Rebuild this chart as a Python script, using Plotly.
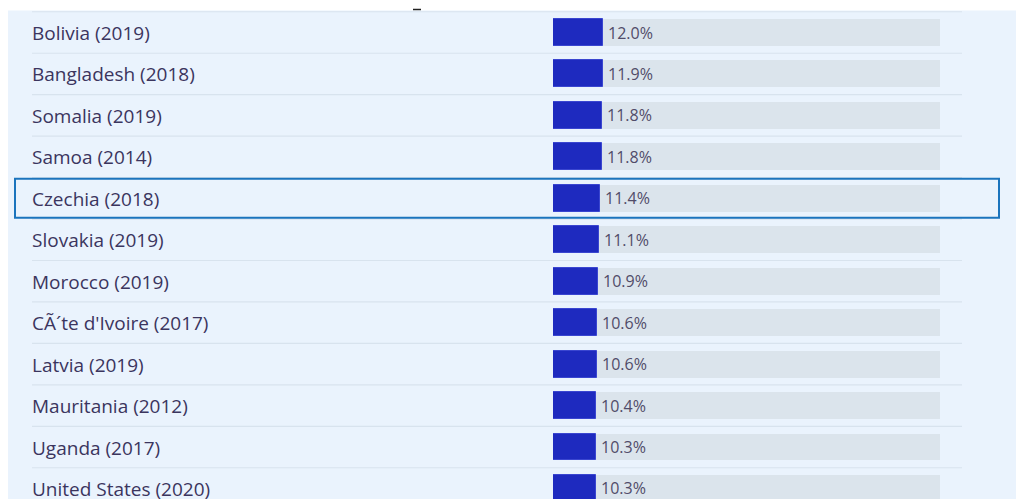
import plotly.graph_objects as go

countries = ["Bolivia (2019)", "Bangladesh (2018)", "Somalia (2019)", "Samoa (2014)",
             "Czechia (2018)", "Slovakia (2019)", "Morocco (2019)", "CÃ´te d'Ivoire (2017)",
             "Latvia (2019)", "Mauritania (2012)", "Uganda (2017)", "United States (2020)"]
values = [12.0, 11.9, 11.8, 11.8, 11.4, 11.1, 10.9, 10.6, 10.6, 10.4, 10.3, 10.3]
value_labels = ["12.0%", "11.9%", "11.8%", "11.8%", "11.4%", "11.1%", "10.9%", "10.6%",
                "10.6%", "10.4%", "10.3%", "10.3%"]
highlight = "Czechia (2018)"
track_max = 92.9

W, H = 1016, 499
n = len(countries)
idx = list(range(n))
row_h = 41.45
y0_px = 32.5

def py(px):
    return 1 - px / H

fig = go.Figure()
fig.add_trace(go.Bar(x=[track_max] * n, y=idx, orientation="h", width=0.65,
                     marker=dict(color="#dbe4ec", line=dict(width=0)),
                     hoverinfo="skip", showlegend=False))
fig.add_trace(go.Bar(x=values, y=idx, orientation="h", width=0.65,
                     marker=dict(color="#1e2abf", line=dict(color="#3a46d0", width=1)),
                     showlegend=False))

shapes = [
    dict(type="rect", xref="paper", yref="paper", x0=8 / W, x1=1, y0=0, y1=py(10.5),
         fillcolor="#eaf3fd", line=dict(width=0), layer="below"),
    dict(type="line", xref="paper", yref="paper", x0=413 / W, x1=421 / W,
         y0=py(9.5), y1=py(9.5), line=dict(color="#222", width=1.5)),
]
for i in idx:
    shapes.append(dict(type="line", xref="paper", yref="y", x0=32 / W, x1=962 / W,
                       y0=i - 0.5, y1=i - 0.5, line=dict(color="#d8e3ee", width=1.2),
                       layer="below"))
hi = countries.index(highlight)
shapes.append(dict(type="rect", xref="paper", yref="y", x0=15 / W, x1=999 / W,
                   y0=hi - 0.47, y1=hi + 0.47, line=dict(color="#1b74bd", width=2),
                   fillcolor="rgba(0,0,0,0)"))

annotations = []
for i, (c, v, t) in enumerate(zip(countries, values, value_labels)):
    annotations.append(dict(x=30 / W, xref="paper", y=i, yref="y", text=c, showarrow=False,
                            xanchor="left", yanchor="middle", yshift=-0.5,
                            font=dict(family="Open Sans", size=19, color="#3b355e")))
    annotations.append(dict(x=v, xref="x", y=i, yref="y", text=t, showarrow=False,
                            xanchor="left", yanchor="middle", xshift=3,
                            font=dict(family="Open Sans", size=16, color="#514c69")))

y_top = (0 - y0_px) / row_h
y_bot = (H - y0_px) / row_h

fig.update_layout(
    width=W, height=H, margin=dict(l=0, r=0, t=0, b=0),
    paper_bgcolor="white", plot_bgcolor="rgba(0,0,0,0)",
    barmode="overlay", bargap=0,
    xaxis=dict(domain=[553 / W, 940 / W], range=[0, track_max], visible=False, fixedrange=True),
    yaxis=dict(domain=[0, 1], range=[y_bot, y_top], visible=False, fixedrange=True),
    shapes=shapes, annotations=annotations,
)
fig.write_html("out.html", config={"displayModeBar": False},
               post_script="document.body.style.margin='0';document.body.style.overflow='hidden';")
